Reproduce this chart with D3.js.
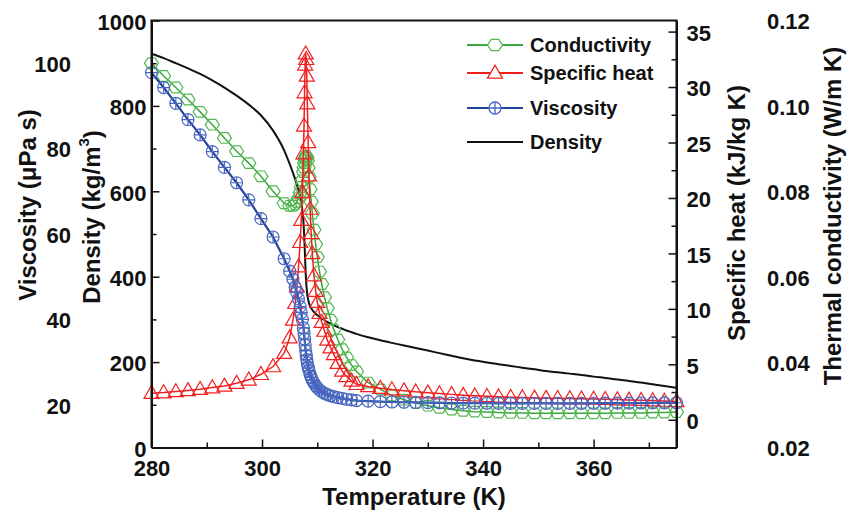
<!DOCTYPE html>
<html><head><meta charset="utf-8">
<script src="https://cdn.jsdelivr.net/npm/d3@7"></script>
<style>
body{margin:0;background:#fff}
text{font-family:"Liberation Sans",Arial,sans-serif;font-weight:bold;fill:#111}
</style>
</head><body><svg id="c" width="848" height="517"></svg>
<script>
// ---------- DATA ----------
const temperature = [280,282.2,284.4,286.6,288.8,291.0,293.2,295.4,297.6,299.8,302.0,304.0,305.0,
 305.6,306.0,306.3,306.6,306.9,307.1,307.3,307.5,307.6,307.7,307.8,307.9,308.0,308.1,308.2,308.35,308.5,308.7,308.9,309.1,309.4,309.7,310.0,310.4,310.8,311.3,311.8,312.4,313.0,313.7,314.5,315.3,316.2,
 317.1,319.2,321.4,323.5,325.7,327.8,330.0,332.1,334.3,336.4,338.5,340.7,342.8,345.0,347.1,349.3,351.4,353.5,355.7,357.8,360.0,362.1,364.3,366.4,368.6,370.7,372.8,375.0];

const density = [922,912,900,888,875,860,843,824,803,778,742,696,664,
 643,628,616,603,588,574,555,528,505,475,440,408,385,369,357,346,338,331,326,322,317,313,310,306,302,298,294,290,286,282,278,274,270,
 266,258,251,245,239,233,227,221,215,209,204,199,195,191,187,183,179,176,173,170,166,163,159,156,152,148,144,140];

const specificHeat = [2.4,2.45,2.55,2.65,2.75,2.9,3.05,3.3,3.6,4.1,4.8,6.0,7.4,
 9.0,10.5,12.0,13.8,16.0,18.0,20.5,24.0,26.5,29.5,32.0,33.0,32.5,31.0,28.5,25.0,22.0,19.0,16.8,15.0,13.0,11.6,10.6,9.6,8.8,8.0,7.2,6.5,5.9,5.1,4.4,3.9,3.5,
 3.2,3.0,2.85,2.72,2.62,2.52,2.44,2.36,2.29,2.22,2.16,2.11,2.07,2.03,2.0,1.97,1.95,1.93,1.91,1.89,1.87,1.85,1.82,1.79,1.76,1.73,1.69,1.65];

const conductivity = [0.1100,0.1070,0.1043,0.1015,0.0986,0.0956,0.0925,0.0894,0.0866,0.0835,0.0800,0.0772,0.0766,
 0.0766,0.0770,0.0775,0.0784,0.0797,0.0810,0.0826,0.0845,0.0856,0.0866,0.0875,0.0880,0.0882,0.0879,0.0872,0.0855,0.0834,0.0805,0.0776,0.0748,0.0710,0.0676,0.0646,0.0612,0.0583,0.0552,0.0526,0.0499,0.0476,0.0453,0.0430,0.0411,0.0393,
 0.0378,0.0352,0.0336,0.0322,0.0312,0.0304,0.0298,0.0293,0.0289,0.0286,0.0284,0.0283,0.0282,0.0281,0.0281,0.0280,0.0280,0.0280,0.0280,0.0280,0.0280,0.0280,0.0281,0.0281,0.0281,0.0282,0.0282,0.0283];

const viscosity = [97.8,94.3,90.6,86.8,83.2,79.3,75.6,72.0,68.0,63.6,59.3,54.2,51.3,
 49.4,47.6,46.3,44.8,43.0,41.6,40.0,38.0,36.8,35.4,34.0,32.7,31.6,30.6,29.8,28.8,28.0,27.1,26.4,25.8,25.1,24.5,24.0,23.5,23.1,22.7,22.4,22.1,21.9,21.7,21.5,21.3,21.15,
 21.0,20.85,20.75,20.65,20.6,20.55,20.5,20.45,20.42,20.4,20.38,20.36,20.35,20.34,20.33,20.33,20.33,20.33,20.34,20.35,20.36,20.37,20.38,20.4,20.42,20.44,20.46,20.48];

const tempTicks = [280,300,320,340,360];
const tempMinor = [290,310,330,350,370];
const densityTicks = [0,200,400,600,800,1000];
const densityMinor = [100,300,500,700,900];
const viscosityTicks = [20,40,60,80,100];
const cpTicks = [0,5,10,15,20,25,30,35];
const cpMinor = [2.5,7.5,12.5,17.5,22.5,27.5,32.5];
const condTicks = [0.02,0.04,0.06,0.08,0.10,0.12];
const legendNames = ["Conductivity","Specific heat","Viscosity","Density"];

// ---------- CHART ----------
const svg = d3.select('#c');
const L=151.5, R=676.5, TOP=20.5, B=447.5;
const x = d3.scaleLinear().domain([280,375]).range([L,R]);
const yDen = d3.scaleLinear().domain([0,1000]).range([B,TOP]);
const yVis = d3.scaleLinear().domain([10,110]).range([B,TOP]);
const yCp = d3.scaleLinear().domain([-2.5,36]).range([B,TOP]);
const yK = d3.scaleLinear().domain([0.02,0.12]).range([B,TOP]);

const GREEN='#3aa83a', GREENM='#52b852', RED='#f21f1f', BLUE='#22449c', BLUEM='#4a67c0';
const FS=22;

function hexPath(r){const p=[];for(let i=0;i<6;i++){const a=Math.PI/3*i;p.push([r*Math.cos(a),r*0.88*Math.sin(a)]);}return 'M'+p.map(d=>d.join(',')).join('L')+'Z';}
function triPath(w,h){return `M0,${-h*0.6}L${w/2},${h*0.4}L${-w/2},${h*0.4}Z`;}

const pts = temperature.map((t,i)=>({t,den:density[i],cp:specificHeat[i],k:conductivity[i],v:viscosity[i]}));
const plot = svg.append('g');

// Density (drawn underneath)
plot.append('path').datum(pts).attr('fill','none').attr('stroke','#111').attr('stroke-width',2)
  .attr('d',d3.line().curve(d3.curveMonotoneX).x(d=>x(d.t)).y(d=>yDen(d.den)));

// Conductivity
plot.append('path').datum(pts).attr('fill','none').attr('stroke',GREEN).attr('stroke-width',1.5)
  .attr('d',d3.line().x(d=>x(d.t)).y(d=>yK(d.k)));
plot.append('g').selectAll('path').data(pts).join('path')
  .attr('transform',d=>`translate(${x(d.t)},${yK(d.k)})`).attr('d',hexPath(7))
  .attr('fill','none').attr('stroke',GREENM).attr('stroke-width',1.2);

// Specific heat
plot.append('path').datum(pts).attr('fill','none').attr('stroke',RED).attr('stroke-width',1.5)
  .attr('d',d3.line().x(d=>x(d.t)).y(d=>yCp(d.cp)));
plot.append('g').selectAll('path').data(pts).join('path')
  .attr('transform',d=>`translate(${x(d.t)},${yCp(d.cp)})`).attr('d',triPath(15,13))
  .attr('fill','none').attr('stroke',RED).attr('stroke-width',1.2);

// Viscosity
plot.append('path').datum(pts).attr('fill','none').attr('stroke',BLUE).attr('stroke-width',2.2)
  .attr('d',d3.line().x(d=>x(d.t)).y(d=>yVis(d.v)));
const vg = plot.append('g').selectAll('g').data(pts).join('g')
  .attr('transform',d=>`translate(${x(d.t)},${yVis(d.v)})`);
vg.append('circle').attr('r',6).attr('fill','none').attr('stroke',BLUEM).attr('stroke-width',1.2);
vg.append('path').attr('d','M-6,0H6M0,-6V6').attr('stroke',BLUEM).attr('stroke-width',1.2);

// ---------- AXES ----------
const ax = svg.append('g');
const gb = ax.append('g').attr('transform',`translate(0,${B})`)
  .call(d3.axisBottom(x).tickValues(tempTicks).tickSizeInner(-8).tickSizeOuter(0).tickFormat(d3.format('d')));
gb.selectAll('text').attr('y',21).attr('dy','0.35em');
ax.append('g').attr('transform',`translate(0,${B})`)
  .call(d3.axisBottom(x).tickValues(tempMinor).tickSizeInner(-5).tickSizeOuter(0).tickFormat(''))
  .select('.domain').remove();
const gl = ax.append('g').attr('transform',`translate(${L},0)`)
  .call(d3.axisLeft(yDen).tickValues(densityTicks).tickSizeInner(-8).tickSizeOuter(0).tickPadding(5).tickFormat(d3.format('d')));
gl.selectAll('text').attr('dy','0.4em');
ax.append('g').attr('transform',`translate(${L},0)`)
  .call(d3.axisLeft(yDen).tickValues(densityMinor).tickSizeInner(-5).tickSizeOuter(0).tickFormat(''))
  .select('.domain').remove();
const gr = ax.append('g').attr('transform',`translate(${R},0)`)
  .call(d3.axisRight(yCp).tickValues(cpTicks).tickSizeInner(-8).tickSizeOuter(0).tickPadding(10).tickFormat(d3.format('d')));
gr.selectAll('text').attr('dy','0.4em');
ax.append('g').attr('transform',`translate(${R},0)`)
  .call(d3.axisRight(yCp).tickValues(cpMinor).tickSizeInner(-5).tickSizeOuter(0).tickFormat(''))
  .select('.domain').remove();
ax.selectAll('.domain').attr('stroke','#111').attr('stroke-width',2);
ax.selectAll('.tick line').attr('stroke','#111').attr('stroke-width',1.5);
ax.selectAll('text').attr('font-size',FS).attr('font-family','"Liberation Sans",Arial,sans-serif').attr('font-weight','bold').attr('fill','#111');
svg.append('line').attr('x1',L-1).attr('x2',R+1).attr('y1',TOP).attr('y2',TOP).attr('stroke','#111').attr('stroke-width',2);
svg.append('line').attr('x1',L).attr('x2',L).attr('y1',TOP).attr('y2',B).attr('stroke','#111').attr('stroke-width',2);
svg.append('line').attr('x1',R).attr('x2',R).attr('y1',TOP).attr('y2',B).attr('stroke','#111').attr('stroke-width',2);

// viscosity labels (outer left)
svg.append('g').selectAll('text').data(viscosityTicks).join('text')
  .attr('x',71).attr('y',d=>yVis(d)).attr('dy','0.4em').attr('text-anchor','end').attr('font-size',FS).text(d=>d);
// conductivity labels (outer right)
svg.append('g').selectAll('text').data(condTicks).join('text')
  .attr('x',767).attr('y',d=>yK(d)).attr('dy','0.4em').attr('text-anchor','start').attr('font-size',FS).text(d=>d3.format('.2f')(d));

// titles
const TF=24;
svg.append('text').attr('x',414).attr('y',505).attr('text-anchor','middle').attr('font-size',TF).text('Temperature (K)');
svg.append('text').attr('transform','translate(28,205) rotate(-90)').attr('dy','0.35em').attr('text-anchor','middle').attr('font-size',TF).text('Viscosity (μPa s)');
const dt = svg.append('text').attr('transform','translate(92,217) rotate(-90)').attr('dy','0.35em').attr('text-anchor','middle').attr('font-size',TF);
dt.append('tspan').text('Density (kg/m');
dt.append('tspan').attr('font-size',15).attr('dy','-0.75em').text('3');
dt.append('tspan').attr('dy','0.5em').text(')');
svg.append('text').attr('transform','translate(737,213) rotate(-90)').attr('dy','0.35em').attr('text-anchor','middle').attr('font-size',TF).text('Specific heat (kJ/kg K)');
svg.append('text').attr('transform','translate(833,216) rotate(-90)').attr('dy','0.35em').attr('text-anchor','middle').attr('font-size',TF).text('Thermal conductivity (W/m K)');

// legend
const legY=[45,73,108,142];
const leg = svg.append('g');
legendNames.forEach((name,i)=>{
  const y=legY[i];
  const col=[GREEN,RED,BLUE,'#111'][i];
  leg.append('line').attr('x1',467).attr('x2',523).attr('y1',y).attr('y2',y).attr('stroke',col).attr('stroke-width',2.2);
  if(i===0) leg.append('path').attr('transform',`translate(495,${y})`).attr('d',hexPath(7.5)).attr('fill','#fff').attr('stroke',GREENM).attr('stroke-width',1.3);
  if(i===1) leg.append('path').attr('transform',`translate(495,${y})`).attr('d',triPath(15,13)).attr('fill','#fff').attr('stroke',RED).attr('stroke-width',1.3);
  if(i===2){leg.append('circle').attr('cx',495).attr('cy',y).attr('r',6).attr('fill','#fff').attr('stroke',BLUEM).attr('stroke-width',1.3);
    leg.append('path').attr('d',`M489,${y}H501M495,${y-6}V${y+6}`).attr('stroke',BLUEM).attr('stroke-width',1.3);}
  leg.append('text').attr('x',530).attr('y',y).attr('dy','0.36em').attr('font-size',20).text(name);
});
</script></body></html>
